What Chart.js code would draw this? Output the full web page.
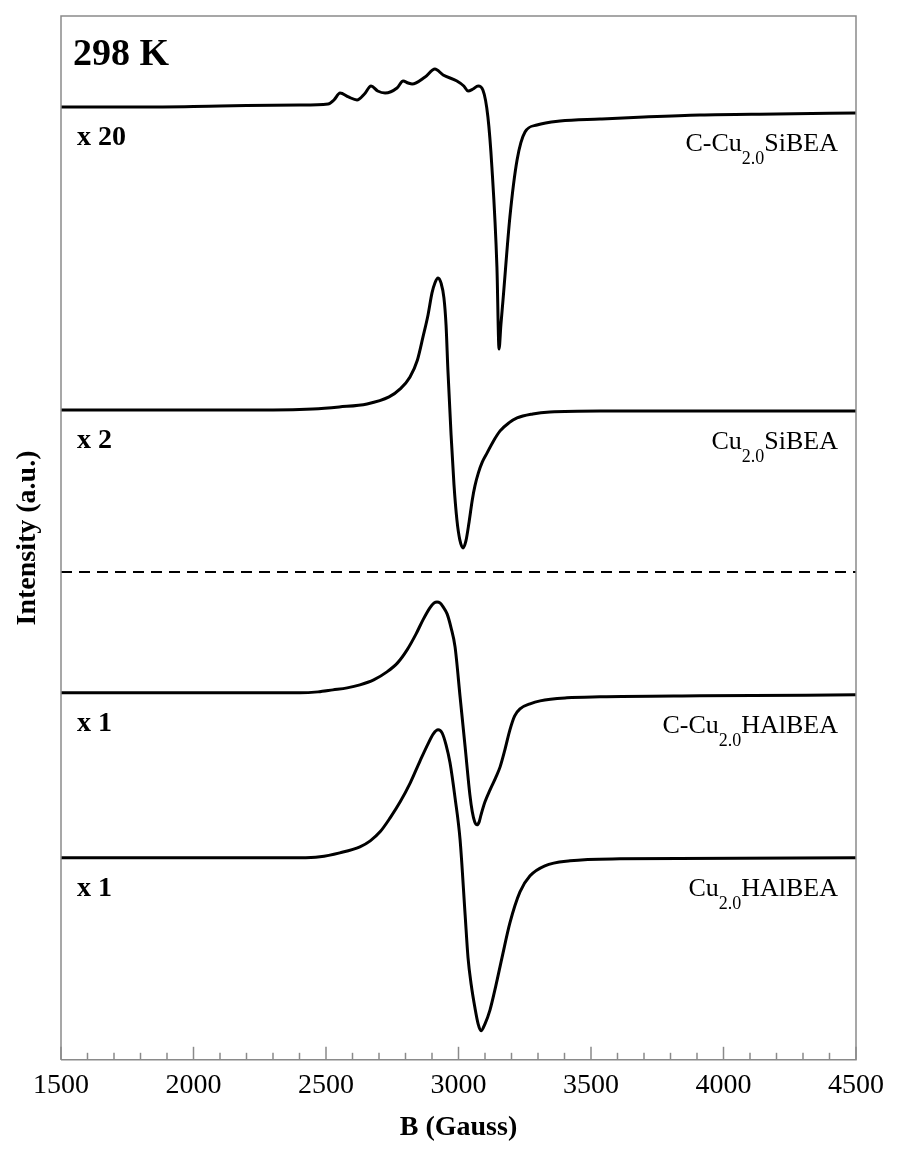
<!DOCTYPE html>
<html>
<head>
<meta charset="utf-8">
<title>EPR spectra 298 K</title>
<script src="https://cdn.jsdelivr.net/npm/chart.js@4.4.1/dist/chart.umd.min.js"></script>
<style>
  html, body { margin: 0; padding: 0; background: #fff; }
  #wrap { width: 900px; height: 1151px; position: relative; }
</style>
</head>
<body>
<div id="wrap"><canvas id="eprChart" width="900" height="1151"></canvas></div>
<script>
// magnetic field (Gauss) and stacked intensity (a.u.)
const fieldC_SiBEA = [1500, 1800, 2100, 2400, 2508, 2530, 2553, 2585, 2617, 2645, 2670, 2695, 2723, 2768, 2791, 2810, 2825, 2874, 2911, 2942, 2994, 3020, 3036, 3055, 3074, 3092, 3111, 3126, 3145, 3153, 3160, 3168, 3194, 3221, 3251, 3296, 3383, 3534, 3700, 3911, 4200, 4500];
const intC_SiBEA = [953, 953, 954, 955, 956, 960, 967, 963, 960, 966, 974, 969, 967, 972, 979, 977, 976, 983, 991, 985, 979, 974, 969, 971, 974, 970, 943, 893, 793, 711, 735, 760, 843, 900, 928, 935, 939, 941, 943, 945, 946, 947];

const fieldSiBEA = [1500, 2000, 2300, 2450, 2550, 2655, 2738, 2780, 2817, 2845, 2866, 2885, 2900, 2911, 2923, 2934, 2945, 2953, 2960, 2972, 2983, 2994, 3005, 3017, 3028, 3040, 3052, 3062, 3075, 3090, 3108, 3130, 3157, 3190, 3221, 3280, 3345, 3534, 4500];
const intSiBEA = [650, 650, 650, 651, 653, 656, 663, 671, 683, 700, 723, 745, 767, 777, 782, 777, 762, 735, 690, 625, 575, 540, 520, 512, 519, 538, 560, 574, 587, 598, 607, 618, 629, 637, 642, 646, 648, 649, 649];

const fieldC_HAlBEA = [1500, 2000, 2300, 2402, 2470, 2526, 2580, 2628, 2680, 2730, 2770, 2806, 2840, 2866, 2892, 2908, 2919, 2930, 2942, 2957, 2972, 2987, 3006, 3025, 3043, 3052, 3061, 3070, 3078, 3085, 3100, 3119, 3140, 3157, 3175, 3194, 3212, 3232, 3270, 3308, 3409, 3534, 3911, 4500];
const intC_HAlBEA = [367, 367, 367, 367, 368, 370, 372, 375, 380, 388, 397, 410, 426, 440, 452, 457, 458, 457, 453, 446, 432, 413, 363, 313, 265, 248, 238, 235, 238, 245, 258, 270, 282, 293, 310, 330, 344, 351, 356, 359, 362, 363, 364, 365];

const fieldHAlBEA = [1500, 2000, 2300, 2402, 2477, 2552, 2628, 2667, 2704, 2742, 2780, 2818, 2855, 2885, 2905, 2923, 2938, 2953, 2968, 2987, 3006, 3025, 3036, 3048, 3062, 3074, 3085, 3100, 3119, 3140, 3164, 3194, 3232, 3270, 3326, 3421, 3609, 4500];
const intHAlBEA = [202, 202, 202, 202, 203, 207, 213, 219, 228, 242, 258, 277, 299, 316, 326, 330, 327, 315, 297, 262, 220, 145, 102, 75, 52, 36, 29, 36, 50, 73, 102, 137, 168, 184, 194, 199, 201, 202];

const dividerLevel = 488;

const sampleNames = [
  ["C-Cu", "2.0", "SiBEA"],
  ["Cu", "2.0", "SiBEA"],
  ["C-Cu", "2.0", "HAlBEA"],
  ["Cu", "2.0", "HAlBEA"]
];
const gainLabels = ["x 20", "x 2", "x 1", "x 1"];
const tempLabel = "298 K";

const bTicks = [1500, 2000, 2500, 3000, 3500, 4000, 4500];
const bMinorStep = 100;

const serif = "'Liberation Serif', 'Times New Roman', serif";

function toPoints(xs, ys) {
  return xs.map(function (x, i) { return { x: x, y: ys[i] }; });
}

const traces = [
  toPoints(fieldC_SiBEA, intC_SiBEA),
  toPoints(fieldSiBEA, intSiBEA),
  toPoints(fieldC_HAlBEA, intC_HAlBEA),
  toPoints(fieldHAlBEA, intHAlBEA)
];

let datasets = traces.map(function (pts) {
  return {
    data: pts,
    borderColor: "#000",
    borderWidth: 3,
    pointRadius: 0,
    fill: false,
    cubicInterpolationMode: "monotone"
  };
});
datasets.push({
  data: [{ x: bTicks[0], y: dividerLevel }, { x: bTicks[bTicks.length - 1], y: dividerLevel }],
  borderColor: "#000",
  borderWidth: 2,
  borderDash: [11, 7],
  pointRadius: 0,
  fill: false
});

// frame, inward ticks and the text annotations
const decorations = {
  id: "decorations",
  afterDraw(chart) {
    const c = chart.ctx;
    const a = chart.chartArea;
    const xs = chart.scales.x;
    const ys = chart.scales.y;
    c.save();

    // frame
    c.strokeStyle = "#8a8a8a";
    c.lineWidth = 1.5;
    c.beginPath();
    c.moveTo(a.left, a.bottom);
    c.lineTo(a.left, a.top);
    c.lineTo(a.right, a.top);
    c.lineTo(a.right, a.bottom);
    c.lineTo(a.left, a.bottom);
    c.stroke();

    // ticks pointing into the plot
    for (let b = bTicks[0]; b <= bTicks[bTicks.length - 1]; b += bMinorStep) {
      const px = xs.getPixelForValue(b);
      const len = bTicks.includes(b) ? 13 : 7;
      c.beginPath();
      c.moveTo(px, a.bottom);
      c.lineTo(px, a.bottom - len);
      c.stroke();
    }

    c.fillStyle = "#000";
    c.textBaseline = "alphabetic";

    // temperature
    c.font = "bold 38px " + serif;
    c.textAlign = "left";
    c.fillText(tempLabel, a.left + 12, a.top + 49);

    // gain factors and sample names below each baseline
    traces.forEach(function (pts, i) {
      const leftBase = ys.getPixelForValue(pts[0].y);
      const rightBase = ys.getPixelForValue(pts[pts.length - 1].y);

      c.font = "bold 28px " + serif;
      c.textAlign = "left";
      c.fillText(gainLabels[i], a.left + 16, leftBase + 38);

      const parts = sampleNames[i];
      const y = rightBase + 38;
      c.font = "26px " + serif;
      const wA = c.measureText(parts[0]).width;
      const wC = c.measureText(parts[2]).width;
      c.font = "18px " + serif;
      const wB = c.measureText(parts[1]).width;
      let x = a.right - 18 - wA - wB - wC;
      c.font = "26px " + serif;
      c.fillText(parts[0], x, y);
      c.font = "18px " + serif;
      c.fillText(parts[1], x + wA, y + 13);
      c.font = "26px " + serif;
      c.fillText(parts[2], x + wA + wB, y);
    });

    // y title
    c.font = "bold 28px " + serif;
    c.textAlign = "center";
    c.textBaseline = "middle";
    c.translate(28, 538);
    c.rotate(-Math.PI / 2);
    c.fillText("Intensity (a.u.)", 0, 0);
    c.restore();
  }
};

const ctx = document.getElementById("eprChart").getContext("2d");
const eprChart = new Chart(ctx, {
  type: "line",
  data: { datasets: datasets },
  options: {
    responsive: false,
    animation: false,
    parsing: false,
    layout: { padding: { left: 61, right: 44, top: 16, bottom: 6 } },
    plugins: {
      legend: { display: false },
      tooltip: { enabled: false }
    },
    scales: {
      x: {
        type: "linear",
        min: 1500,
        max: 4500,
        afterBuildTicks: function (scale) {
          scale.ticks = bTicks.map(function (v) { return { value: v }; });
        },
        grid: { display: false, drawTicks: false },
        border: { display: false },
        ticks: {
          color: "#000",
          padding: 9,
          maxRotation: 0,
          font: { family: serif, size: 28 },
          callback: function (v) { return String(v); }
        },
        title: {
          display: true,
          text: "B (Gauss)",
          color: "#000",
          padding: { top: 0, bottom: 0 },
          font: { family: serif, size: 28, weight: "bold" }
        }
      },
      y: {
        display: false,
        min: 0,
        max: 1044
      }
    }
  },
  plugins: [decorations]
});
</script>
</body>
</html>
